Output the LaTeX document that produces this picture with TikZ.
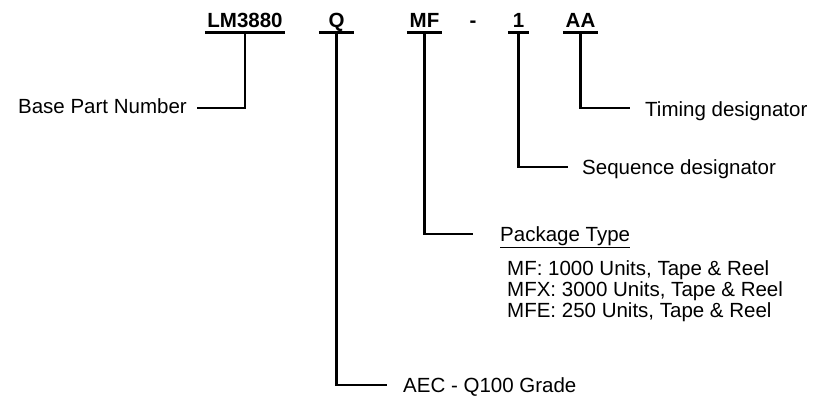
\documentclass[tikz,border=0pt]{standalone}
\usepackage{fontspec}
\setmainfont{Liberation Sans}
\begin{document}
\begin{tikzpicture}[x=1pt,y=-1pt,
  toplab/.style={font=\fontsize{20.5}{24}\selectfont\bfseries, inner xsep=0pt, inner ysep=5pt, text depth=0pt, anchor=base},
  sidelab/.style={font=\fontsize{20.5}{24}\selectfont, inner sep=0pt},
  conn/.style={line width=2.6pt, line cap=butt, line join=miter},
  barline/.style={line width=2.6pt},
  uline/.style={line width=1.3pt}]
\useasboundingbox (0,0) rectangle (814,400);
% part-number fields
\node[toplab, minimum width=80pt] (lm) at (245,27) {LM3880};
\node[toplab, minimum width=35pt] (q) at (336.5,27) {Q};
\node[toplab, minimum width=35pt] (mf) at (424.5,27) {MF};
\node[toplab] (dash) at (473,27) {-};
\node[toplab, minimum width=21pt] (one) at (518.5,27) {1};
\node[toplab, minimum width=35pt] (aa) at (580.5,27) {AA};
\foreach \n in {lm,q,mf,one,aa}
  \draw[barline] (\n.south west) -- (\n.south east);
% side labels
\node[sidelab, anchor=base east] (base) at (187,113) {Base Part Number};
\node[sidelab, anchor=base west] (timing) at (645,116) {Timing designator};
\node[sidelab, anchor=base west] (seq) at (582,174) {Sequence designator};
\node[sidelab, anchor=base west, text depth=6pt] (pkg) at (500,241) {Package Type};
\draw[uline] (pkg.south west) -- (pkg.south east);
\node[sidelab, anchor=base west] (mfu) at (507,275) {MF: 1000 Units, Tape \& Reel};
\node[sidelab, anchor=base west] (mfx) at (507,296) {MFX: 3000 Units, Tape \& Reel};
\node[sidelab, anchor=base west] (mfe) at (507,317) {MFE: 250 Units, Tape \& Reel};
\node[sidelab, anchor=base west] (aec) at (403,392) {AEC - Q100 Grade};
% connectors
\draw[conn] (lm.south) |- ([shift={(10,-5)}]base.base east);
\draw[conn] (aa.south) |- ([shift={(-15,-8)}]timing.base west);
\draw[conn] (one.south) |- ([shift={(-14,-7)}]seq.base west);
\draw[conn] (mf.south) |- ([shift={(-27,-7)}]pkg.base west);
\draw[conn] (q.south) |- ([shift={(-16,-7)}]aec.base west);
\end{tikzpicture}
\end{document}
